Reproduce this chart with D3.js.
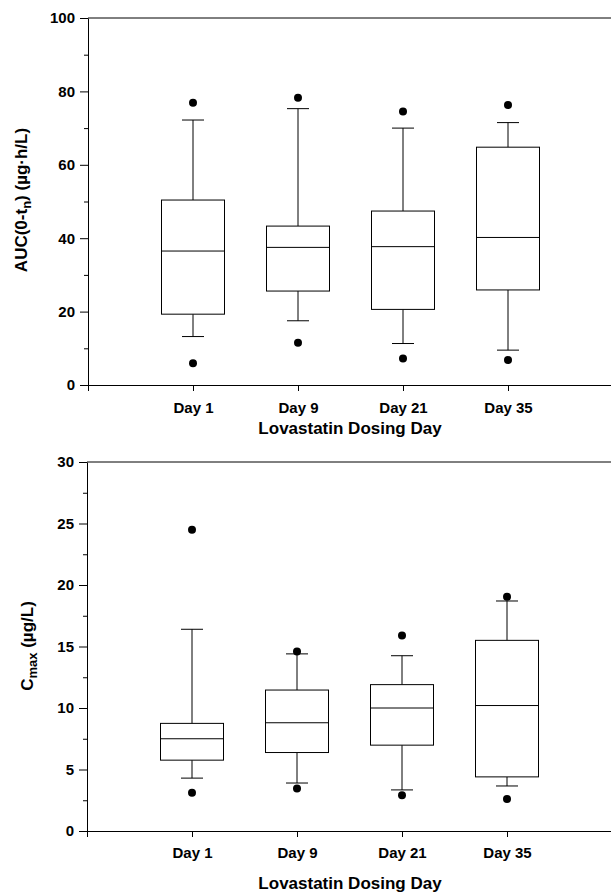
<!DOCTYPE html>
<html>
<head>
<meta charset="utf-8">
<script src="https://cdn.jsdelivr.net/npm/d3@7"></script>
<style>
  body { margin: 0; background: #fff; }
  svg { display: block; font-family: "Liberation Sans", Arial, sans-serif; }
  .axis text { font-family: "Liberation Sans", Arial, sans-serif; font-weight: bold; fill: #000; }
  .axis path, .axis line { stroke: #000; }
</style>
</head>
<body>
<div id="chart"></div>
<script>
// categories
const days = ['Day 1', 'Day 9', 'Day 21', 'Day 35'];

// AUC(0-tn) box statistics, one entry per day
const aucOutLow = [5.9, 11.5, 7.2, 6.8];
const aucWhiskLow = [13.2, 17.5, 11.3, 9.5];
const aucQ1 = [19.3, 25.6, 20.6, 25.9];
const aucMedian = [36.5, 37.5, 37.7, 40.2];
const aucQ3 = [50.4, 43.3, 47.4, 64.8];
const aucWhiskHigh = [72.2, 75.3, 70.0, 71.5];
const aucOutHigh = [76.9, 78.3, 74.5, 76.3];

// Cmax box statistics
const cmaxOutLow = [3.1, 3.45, 2.9, 2.6];
const cmaxWhiskLow = [4.3, 3.9, 3.34, 3.66];
const cmaxQ1 = [5.76, 6.38, 6.98, 4.4];
const cmaxMedian = [7.5, 8.8, 10.0, 10.2];
const cmaxQ3 = [8.75, 11.46, 11.9, 15.5];
const cmaxWhiskHigh = [16.4, 14.4, 14.25, 18.7];
const cmaxOutHigh = [24.5, 14.6, 15.9, 19.05];

// tick values
const aucTicks = [0, 20, 40, 60, 80, 100];
const aucMinor = [10, 30, 50, 70, 90];
const cmaxTicks = [0, 5, 10, 15, 20, 25, 30];
const cmaxMinor = [2.5, 7.5, 12.5, 17.5, 22.5, 27.5];

const W = 611, H = 894;

const svg = d3.select('#chart').append('svg')
  .attr('width', W)
  .attr('height', H);

const buildRows = (lo, wl, q1, med, q3, wh, hi) => days.map((d, i) => ({
  idx: i + 1, outLow: lo[i], whiskLow: wl[i], q1: q1[i], median: med[i], q3: q3[i], whiskHigh: wh[i], outHigh: hi[i],
}));

const drawPanel = (opts) => {
  const { rows, x, y, ticks, minor, yLabel, titleY, tickLabelOffset, labelPos } = opts;
  const g = svg.append('g');
  const [left, right] = x.range();
  const [bottom, top] = y.range();

  // top frame line (right edge falls outside the picture)
  g.append('line')
    .attr('x1', left).attr('x2', right)
    .attr('y1', top).attr('y2', top)
    .attr('stroke', '#000');

  // y axis
  const yAxis = g.append('g')
    .attr('class', 'axis')
    .attr('transform', `translate(${left},0)`)
    .call(d3.axisLeft(y).tickValues(ticks).tickSize(8).tickSizeOuter(0).tickPadding(5));
  yAxis.selectAll('text').style('font-size', '15px');

  g.append('g')
    .attr('class', 'axis')
    .attr('transform', `translate(${left},0)`)
    .call(d3.axisLeft(y).tickValues(minor).tickSize(4).tickSizeOuter(0).tickFormat(''))
    .select('.domain').remove();

  // x axis
  const xAxis = g.append('g')
    .attr('class', 'axis')
    .attr('transform', `translate(0,${bottom})`)
    .call(d3.axisBottom(x).tickValues([0, 1, 2, 3, 4]).tickSize(6).tickSizeOuter(0)
      .tickFormat(i => (i ? days[i - 1] : '')));
  xAxis.selectAll('text')
    .style('font-size', '15px')
    .attr('y', tickLabelOffset)
    .attr('dy', 0);

  // axis titles
  g.append('text')
    .attr('x', 350)
    .attr('y', titleY)
    .attr('text-anchor', 'middle')
    .style('font-size', '17px')
    .style('font-weight', 'bold')
    .text('Lovastatin Dosing Day');

  const yl = g.append('text')
    .attr('transform', `translate(${labelPos[0]},${labelPos[1]}) rotate(-90)`)
    .attr('text-anchor', 'middle')
    .style('font-size', '17px')
    .style('font-weight', 'bold');
  yLabel(yl);

  // boxes
  const boxW = 63, capW = 22;
  const box = g.selectAll('g.box')
    .data(rows)
    .join('g')
    .attr('class', 'box');

  box.append('line') // upper whisker
    .attr('x1', d => x(d.idx)).attr('x2', d => x(d.idx))
    .attr('y1', d => y(d.q3)).attr('y2', d => y(d.whiskHigh))
    .attr('stroke', '#000');
  box.append('line') // lower whisker
    .attr('x1', d => x(d.idx)).attr('x2', d => x(d.idx))
    .attr('y1', d => y(d.q1)).attr('y2', d => y(d.whiskLow))
    .attr('stroke', '#000');
  box.append('line')
    .attr('x1', d => x(d.idx) - capW / 2).attr('x2', d => x(d.idx) + capW / 2)
    .attr('y1', d => y(d.whiskHigh)).attr('y2', d => y(d.whiskHigh))
    .attr('stroke', '#000');
  box.append('line')
    .attr('x1', d => x(d.idx) - capW / 2).attr('x2', d => x(d.idx) + capW / 2)
    .attr('y1', d => y(d.whiskLow)).attr('y2', d => y(d.whiskLow))
    .attr('stroke', '#000');
  box.append('rect')
    .attr('x', d => x(d.idx) - boxW / 2)
    .attr('width', boxW)
    .attr('y', d => y(d.q3))
    .attr('height', d => y(d.q1) - y(d.q3))
    .attr('fill', '#fff')
    .attr('stroke', '#000');
  box.append('line')
    .attr('x1', d => x(d.idx) - boxW / 2).attr('x2', d => x(d.idx) + boxW / 2)
    .attr('y1', d => y(d.median)).attr('y2', d => y(d.median))
    .attr('stroke', '#000');
  box.append('circle')
    .attr('cx', d => x(d.idx)).attr('cy', d => y(d.outHigh)).attr('r', 4);
  box.append('circle')
    .attr('cx', d => x(d.idx)).attr('cy', d => y(d.outLow)).attr('r', 4);
};

// top panel: AUC
drawPanel({
  rows: buildRows(aucOutLow, aucWhiskLow, aucQ1, aucMedian, aucQ3, aucWhiskHigh, aucOutHigh),
  x: d3.scaleLinear().domain([0, 5]).range([88, 613]),
  y: d3.scaleLinear().domain([0, 100]).range([385, 18]),
  ticks: aucTicks,
  minor: aucMinor,
  titleY: 434,
  tickLabelOffset: 28,
  labelPos: [27, 200],
  yLabel: (t) => {
    t.append('tspan').text('AUC(0-t');
    t.append('tspan').attr('dy', 4).style('font-size', '13px').text('n');
    t.append('tspan').attr('dy', -4).text(') (\u00b5g\u00b7h/L)');
  },
});

// bottom panel: Cmax
drawPanel({
  rows: buildRows(cmaxOutLow, cmaxWhiskLow, cmaxQ1, cmaxMedian, cmaxQ3, cmaxWhiskHigh, cmaxOutHigh),
  x: d3.scaleLinear().domain([0, 5]).range([87, 612]),
  y: d3.scaleLinear().domain([0, 30]).range([831, 462]),
  ticks: cmaxTicks,
  minor: cmaxMinor,
  titleY: 889,
  tickLabelOffset: 27,
  labelPos: [33, 646],
  yLabel: (t) => {
    t.append('tspan').text('C');
    t.append('tspan').attr('dy', 4).style('font-size', '13px').text('max');
    t.append('tspan').attr('dy', -4).text(' (\u00b5g/L)');
  },
});
</script>
</body>
</html>
